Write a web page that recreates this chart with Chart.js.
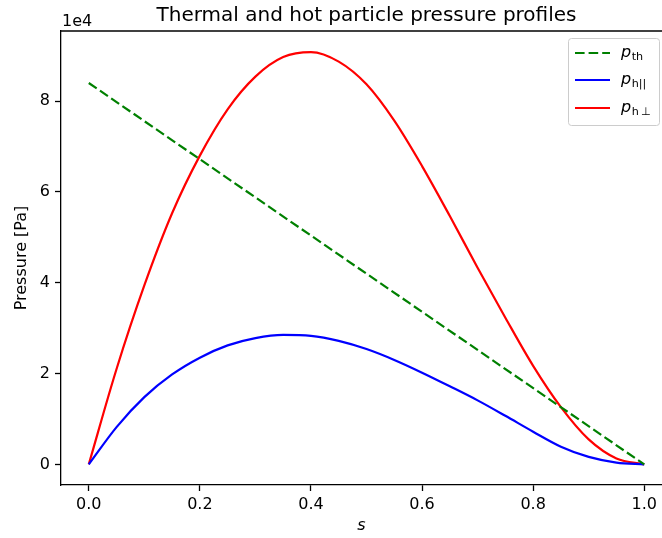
<!DOCTYPE html>
<html>
<head>
<meta charset="utf-8">
<script src="https://cdn.jsdelivr.net/npm/chart.js@4.4.0/dist/chart.umd.min.js"></script>
<style>
  html, body { margin: 0; padding: 0; background: #fff; overflow: hidden; }
  #wrap { width: 662px; height: 538px; }
</style>
</head>
<body>
<div id="wrap"><canvas id="pressureChart" width="662" height="538"></canvas></div>
<script>
// Donnees (pression en Pa)
const sThermal = [0, 1];
const pThermal = [84000, 0];

const sHot = [0, 0.05, 0.1, 0.15, 0.2, 0.25, 0.3, 0.35, 0.4, 0.45, 0.5,
              0.55, 0.6, 0.65, 0.7, 0.75, 0.8, 0.85, 0.9, 0.95, 1.0];
const pHotPar = [0, 8200, 14800, 19800, 23500, 26200, 27800, 28500, 28300, 27200, 25400,
                 23000, 20200, 17200, 14100, 10700, 7200, 3900, 1650, 400, 0];
const pHotPerp = [0, 21000, 39400, 55300, 68000, 78200, 85400, 89700, 90800, 88700, 83700,
                  75700, 65700, 54700, 43300, 32300, 21700, 12600, 5500, 1300, 0];

const xTicks = [0, 0.2, 0.4, 0.6, 0.8, 1.0];
const yTicks = [0, 20000, 40000, 60000, 80000];

const FONT = 'DejaVu Sans';
const DASH = [9.6, 4];

function points(xs, ys) {
    return xs.map(function (x, i) { return { x: x, y: ys[i] }; });
}

// Titre, cadre haut, facteur 1e4 et legende
const decorPlugin = {
    id: 'decor',
    afterDraw: function (chart) {
        const ctx = chart.ctx;
        const area = chart.chartArea;
        ctx.save();

        // l'axe continue au-dela du bord droit : pas de cadre visible a droite
        ctx.fillStyle = '#fff';
        ctx.fillRect(650, area.top + 1, chart.width - 650, area.bottom - area.top - 2);

        ctx.strokeStyle = '#000';
        ctx.lineWidth = 1.3;
        ctx.beginPath();
        ctx.moveTo(area.left, area.top);
        ctx.lineTo(chart.width, area.top);
        ctx.stroke();

        // le titre est centre sur l'axe complet
        ctx.fillStyle = '#000';
        ctx.font = '20px "' + FONT + '"';
        ctx.textAlign = 'center';
        ctx.textBaseline = 'alphabetic';
        ctx.fillText('Thermal and hot particle pressure profiles', 366.5, 21);

        ctx.font = '16px "' + FONT + '"';
        ctx.textAlign = 'left';
        ctx.fillText('1e4', area.left + 1, 26);

        // legende
        const bx = 568.5, by = 38.5, bw = 91, bh = 87;
        ctx.fillStyle = 'rgba(255,255,255,0.8)';
        ctx.strokeStyle = '#cccccc';
        ctx.lineWidth = 1;
        ctx.beginPath();
        ctx.roundRect(bx, by, bw, bh, 3);
        ctx.fill();
        ctx.stroke();

        const entries = [
            { sub: 'th', color: '#008000', dash: DASH, y: 53 },
            { sub: 'h||', color: '#0000ff', dash: [], y: 80 },
            { sub: 'h\u2009\u22a5', color: '#ff0000', dash: [], y: 108 }
        ];
        entries.forEach(function (e) {
            ctx.strokeStyle = e.color;
            ctx.lineWidth = 2.2;
            ctx.setLineDash(e.dash);
            ctx.beginPath();
            ctx.moveTo(575, e.y);
            ctx.lineTo(610, e.y);
            ctx.stroke();
            ctx.setLineDash([]);
            ctx.fillStyle = '#000';
            ctx.textBaseline = 'alphabetic';
            ctx.font = 'italic 16px "' + FONT + '"';
            ctx.fillText('p', 621, e.y + 3.5);
            const w = ctx.measureText('p').width;
            ctx.font = '11.2px "' + FONT + '"';
            ctx.fillText(e.sub, 621 + w + 0.5, e.y + 7);
        });
        ctx.restore();
    }
};

function initPressureChart() {
    const ctx = document.getElementById('pressureChart');

    const data = {
        datasets: [{
            label: 'p_th',
            data: points(sThermal, pThermal),
            borderColor: '#008000',
            borderWidth: 2.2,
            borderDash: DASH,
            pointRadius: 0,
            fill: false
        }, {
            label: 'p_h||',
            data: points(sHot, pHotPar),
            borderColor: '#0000ff',
            borderWidth: 2.2,
            pointRadius: 0,
            cubicInterpolationMode: 'monotone',
            fill: false
        }, {
            label: 'p_h_perp',
            data: points(sHot, pHotPerp),
            borderColor: '#ff0000',
            borderWidth: 2.2,
            pointRadius: 0,
            cubicInterpolationMode: 'monotone',
            fill: false
        }]
    };

    const config = {
        type: 'line',
        data: data,
        options: {
            responsive: false,
            animation: false,
            devicePixelRatio: 1,
            layout: { padding: { left: 0, right: 0, top: 31, bottom: 0 } },
            plugins: {
                legend: { display: false },
                title: { display: false },
                tooltip: { enabled: false }
            },
            scales: {
                x: {
                    type: 'linear',
                    min: -0.05,
                    max: 1.032,
                    afterFit: function (scale) { scale.height = 53; },
                    afterBuildTicks: function (scale) {
                        scale.ticks = xTicks.map(function (v) { return { value: v }; });
                    },
                    grid: { drawOnChartArea: false, drawTicks: true, tickLength: 6, color: '#000', tickWidth: 1.3 },
                    border: { display: true, color: '#000', width: 1.3 },
                    ticks: {
                        color: '#000',
                        padding: 4,
                        maxRotation: 0,
                        font: { family: FONT, size: 16 },
                        callback: function (v) { return v.toFixed(1); }
                    },
                    title: {
                        display: true,
                        text: 's',
                        color: '#000',
                        padding: { top: 0, bottom: 3 },
                        font: { family: FONT, size: 16, style: 'italic' }
                    }
                },
                y: {
                    type: 'linear',
                    min: -4545,
                    max: 95450,
                    afterFit: function (scale) { scale.width = 61; },
                    afterBuildTicks: function (scale) {
                        scale.ticks = yTicks.map(function (v) { return { value: v }; });
                    },
                    grid: { drawOnChartArea: false, drawTicks: true, tickLength: 6, color: '#000', tickWidth: 1.3 },
                    border: { display: true, color: '#000', width: 1.3 },
                    ticks: {
                        color: '#000',
                        padding: 5,
                        font: { family: FONT, size: 16 },
                        callback: function (v) { return String(v / 10000); }
                    },
                    title: {
                        display: true,
                        text: 'Pressure [Pa]',
                        color: '#000',
                        padding: { top: 12, bottom: 0 },
                        font: { family: FONT, size: 16 }
                    }
                }
            }
        },
        plugins: [decorPlugin]
    };

    new Chart(ctx, config);
}

document.addEventListener('DOMContentLoaded', function () {
    initPressureChart();
});
</script>
</body>
</html>
